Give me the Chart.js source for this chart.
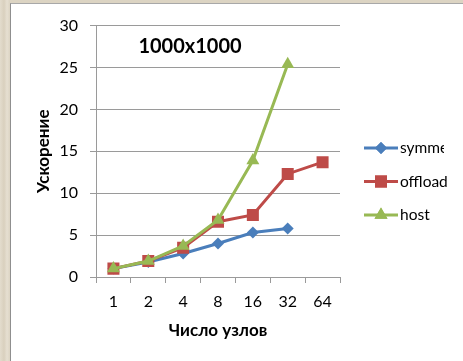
<!DOCTYPE html>
<html>
<head>
<meta charset="utf-8">
<script src="https://cdn.jsdelivr.net/npm/chart.js@4.4.1/dist/chart.umd.min.js"></script>
<style>
  html, body { margin: 0; padding: 0; }
  body {
    width: 463px; height: 361px; overflow: hidden;
    background: linear-gradient(90deg, #e3dccd 0px, #d9d0be 4px, #e6dfd1 7px, #dcd4c3 10px);
  }
  #wrap {
    position: absolute; left: 10px; top: 3px;
    width: 452px; height: 357px;
    background: #fff;
    border-left: 1px solid #8f8f8f;
    border-top: 1px solid #a8a8a8;
  }
</style>
</head>
<body>
<div id="wrap"><canvas id="myChart" width="452" height="357"></canvas></div>
<script>
// nodes on the x axis and speedup per mode
let labels = ['1', '2', '4', '8', '16', '32', '64'];
let symmValues = [1.0, 1.8, 2.8, 4.0, 5.3, 5.8, null];
let offloadValues = [1.0, 1.9, 3.5, 6.6, 7.4, 12.3, 13.7];
let hostValues = [1.0, 1.9, 3.7, 6.8, 13.9, 25.4, null];
let seriesNames = ['symmetric', 'offload', 'host'];
let yTicks = [0, 5, 10, 15, 20, 25, 30];

const colors = ['#4a7ebb', '#be4b48', '#98b954'];
const markers = ['rectRot', 'rect', 'triangle'];
const markerSize = [6, 8.5, 7.5];
const fontName = 'Lato, "Open Sans", sans-serif';

// title sits inside the plot area, top left
const titlePlugin = {
    id: 'innerTitle',
    afterDraw(chart) {
        const c = chart.ctx;
        c.save();
        c.font = 'bold 20px ' + fontName;
        c.fillStyle = '#000';
        c.textAlign = 'center';
        c.textBaseline = 'middle';
        c.fillText('1000x1000', chart.chartArea.left + 94, chart.chartArea.top + 21);
        c.restore();
    }
};

// legend with line + marker; the first entry is too long and gets cut
const lineLegend = {
    id: 'lineLegend',
    afterDraw(chart) {
        const c = chart.ctx;
        for (let i = 0; i < seriesNames.length; i++) {
            const y = 144 + i * 33.5;
            c.save();
            if (i === 0) {
                c.beginPath();
                c.rect(chart.chartArea.right, 0, 433 - chart.chartArea.right, chart.height);
                c.clip();
            }
            c.strokeStyle = colors[i];
            c.lineWidth = 3;
            c.beginPath();
            c.moveTo(353, y);
            c.lineTo(387, y);
            c.stroke();
            c.fillStyle = colors[i];
            Chart.helpers.drawPoint(c, {pointStyle: markers[i], radius: markerSize[i], borderWidth: 0}, 370, y);
            c.fill();
            c.fillStyle = '#000';
            c.font = '15.5px ' + fontName;
            c.textBaseline = 'middle';
            c.fillText(seriesNames[i], 389, y);
            c.restore();
        }
    }
};

function makeSet(i, data) {
    return {
        label: seriesNames[i],
        data: data,
        borderColor: colors[i],
        backgroundColor: colors[i],
        borderWidth: 3,
        pointStyle: markers[i],
        pointRadius: markerSize[i],
        pointBorderWidth: 0,
        tension: 0,
        order: 3 - i
    };
}

const ctx = document.getElementById('myChart');
const speedChart = new Chart(ctx, {
    type: 'line',
    data: {
        labels: labels,
        datasets: [
            makeSet(0, symmValues),
            makeSet(1, offloadValues),
            makeSet(2, hostValues)
        ]
    },
    options: {
        responsive: false,
        animation: false,
        layout: { padding: { left: 0, top: 19, right: 123, bottom: 0 } },
        plugins: {
            legend: { display: false },
            tooltip: { enabled: false }
        },
        scales: {
            x: {
                offset: true,
                afterFit(scale) { scale.height = 84; },
                grid: {
                    offset: true,
                    drawOnChartArea: false,
                    drawTicks: true,
                    tickLength: 6,
                    color: '#9a9a9a'
                },
                border: { display: true, color: '#9a9a9a', width: 1 },
                ticks: {
                    color: '#000',
                    padding: 9,
                    maxRotation: 0,
                    font: { family: fontName, size: 16 }
                },
                title: {
                    display: true,
                    text: 'Число узлов',
                    color: '#000',
                    font: { family: fontName, size: 17, weight: 'bold' },
                    padding: { top: 0, bottom: 20 }
                }
            },
            y: {
                min: 0,
                max: 30,
                afterFit(scale) { scale.width = 85; },
                afterBuildTicks(scale) { scale.ticks = yTicks.map(v => ({ value: v })); },
                grid: {
                    color: '#9a9a9a',
                    drawTicks: true,
                    tickLength: 6
                },
                border: { display: true, color: '#9a9a9a', width: 1 },
                ticks: {
                    color: '#000',
                    padding: 12,
                    font: { family: fontName, size: 16 }
                },
                title: {
                    display: true,
                    text: 'Ускорение',
                    color: '#000',
                    font: { family: fontName, size: 17, weight: 'bold' },
                    padding: { top: 22, bottom: 0 }
                }
            }
        }
    },
    plugins: [titlePlugin, lineLegend]
});
</script>
</body>
</html>
